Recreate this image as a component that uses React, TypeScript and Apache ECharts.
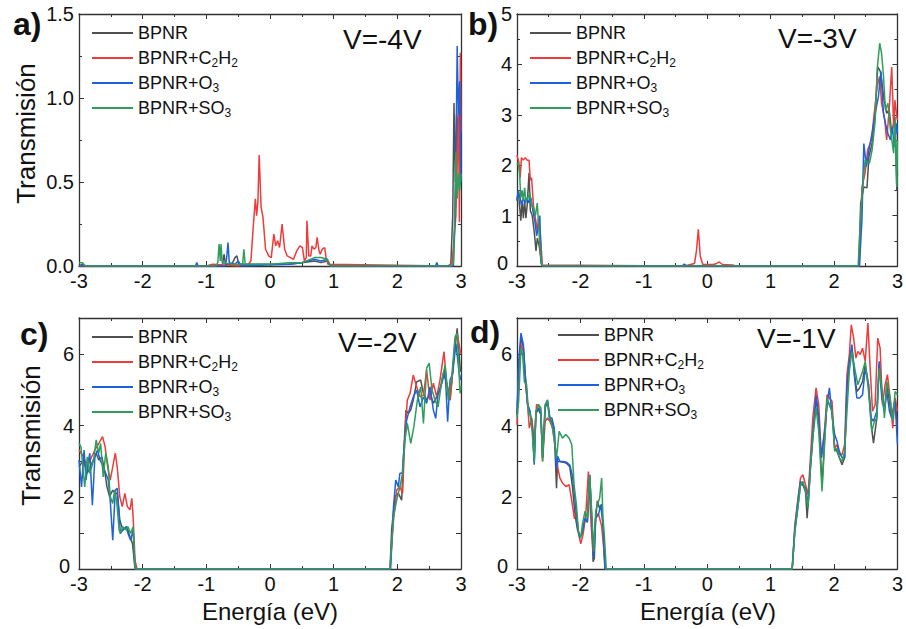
import React, { useEffect, useRef } from "react";
import * as echarts from "echarts";

const NAMES = ["BPNR", "BPNR+C2H2", "BPNR+O3", "BPNR+SO3"];
const COLORS = ["#505050", "#ee3b3b", "#1d62dc", "#2f9e5c"];
const PANEL_LABELS = ["a)", "b)", "c)", "d)"];
const VOLTAGES = ["V=-4V", "V=-3V", "V=-2V", "V=-1V"];
const X_TICKS = [-3, -2, -1, 0, 1, 2, 3];
const Y_MAX = [1.5, 5, 7, 7];
const Y_STEP = [0.5, 1, 1, 1];

// Panel a) V=-4V
const aBPNR = [[-3,0],[-2.95,0.01],[-2.9,0],[-0.75,0],[-0.72,0.07],[-0.7,0.01],[-0.6,0.01],[-0.55,0.05],[-0.52,0.06],[-0.49,0.01],[-0.1,0.01],[0.3,0.01],[0.5,0.02],[0.7,0.03],[0.8,0.02],[0.9,0.03],[0.95,0],[2.8,0],[2.84,0.01],[2.87,0.3],[2.89,0.97],[2.91,0.5],[2.93,0.9],[2.95,0.75],[2.97,1.05],[2.99,0.6],[3,0.8]];
const aC2H2 = [[-3,0],[-1.0,0],[-0.9,0.01],[-0.5,0],[-0.34,0.01],[-0.3,0.03],[-0.26,0.25],[-0.23,0.4],[-0.21,0.3],[-0.19,0.38],[-0.17,0.66],[-0.14,0.35],[-0.11,0.29],[-0.07,0.1],[-0.02,0.06],[0.02,0.05],[0.06,0.19],[0.09,0.12],[0.12,0.15],[0.15,0.11],[0.19,0.25],[0.23,0.1],[0.27,0.06],[0.32,0.05],[0.37,0.04],[0.42,0.09],[0.47,0.12],[0.51,0.11],[0.54,0.03],[0.57,0.05],[0.58,0.27],[0.61,0.06],[0.64,0.06],[0.66,0.12],[0.69,0.1],[0.72,0.11],[0.74,0.17],[0.77,0.09],[0.79,0.07],[0.82,0.1],[0.86,0.11],[0.88,0.05],[0.91,0.01],[2.8,0],[2.86,0.02],[2.92,0.3],[2.94,0.6],[2.96,0.9],[2.975,0.26],[2.99,1.27],[3,0.8]];
const aO3 = [[-3,0],[-1.17,0],[-1.15,0.02],[-1.13,0],[-0.7,0],[-0.68,0.05],[-0.66,0.14],[-0.64,0.02],[-0.55,0.01],[-0.5,0.03],[-0.45,0],[0.3,0.01],[0.5,0.02],[0.7,0.04],[0.8,0.03],[0.9,0.04],[0.95,0],[2.6,0],[2.62,0.02],[2.64,0],[2.88,0],[2.9,0.2],[2.92,0.6],[2.94,1.31],[2.96,0.9],[2.98,1.1],[3,0.5]];
const aSO3 = [[-3,0.02],[-2.95,0.02],[-2.9,0],[-0.85,0],[-0.82,0.02],[-0.8,0.13],[-0.78,0.03],[-0.77,0.13],[-0.75,0.02],[-0.6,0.01],[-0.43,0.01],[-0.41,0.1],[-0.39,0.01],[0,0.01],[0.3,0.02],[0.5,0.02],[0.7,0.05],[0.8,0.05],[0.9,0.04],[0.95,0],[2.85,0],[2.88,0.02],[2.9,0.3],[2.92,0.68],[2.94,0.4],[2.96,0.55],[2.98,0.45],[3,0.55]];

// Panel b) V=-3V
const bBPNR = [[-3,1.3],[-2.98,1.5],[-2.96,1.2],[-2.94,0.9],[-2.92,1.3],[-2.9,0.95],[-2.88,1.3],[-2.86,0.95],[-2.84,1.2],[-2.81,1.85],[-2.79,1.1],[-2.76,1.0],[-2.73,0.7],[-2.7,0.3],[-2.68,0.55],[-2.65,0.4],[-2.62,0.1],[-2.6,0],[2.39,0],[2.42,1.24],[2.47,1.57],[2.52,1.55],[2.55,2.17],[2.6,2.43],[2.65,3.1],[2.69,3.95],[2.73,3.86],[2.75,3.69],[2.79,3.29],[2.83,3.03],[2.87,3.1],[2.91,2.63],[2.96,2.96],[2.99,1.5],[3,1.84]];
const bC2H2 = [[-3,2.2],[-2.97,2.05],[-2.95,1.75],[-2.93,2.15],[-2.9,2.1],[-2.87,2.15],[-2.84,2.1],[-2.81,2.1],[-2.79,1.7],[-2.77,1.75],[-2.74,1.2],[-2.71,0.95],[-2.68,0.7],[-2.66,0.95],[-2.63,0.6],[-2.6,0.02],[-0.4,0],[-0.3,0.02],[-0.2,0.05],[-0.17,0.3],[-0.14,0.73],[-0.11,0.2],[-0.07,0.03],[0.1,0.03],[0.15,0.05],[0.19,0.08],[0.24,0.03],[0.4,0.02],[0.45,0],[2.4,0],[2.44,1.57],[2.49,1.84],[2.53,2.3],[2.59,2.5],[2.62,2.86],[2.68,3.56],[2.72,3.76],[2.75,3.23],[2.8,2.9],[2.83,2.5],[2.87,3.1],[2.91,3.95],[2.94,2.76],[2.96,3.29],[2.99,2.96],[3,2.9]];
const bO3 = [[-3,1.3],[-2.98,1.5],[-2.95,1.35],[-2.93,1.2],[-2.9,1.35],[-2.87,1.25],[-2.84,1.35],[-2.81,1.25],[-2.78,1.35],[-2.75,1.1],[-2.72,0.9],[-2.69,0.6],[-2.66,0.8],[-2.64,1.0],[-2.62,0.05],[-2.6,0],[-0.4,0],[-0.36,0.04],[-0.33,0],[2.4,0],[2.44,0.91],[2.47,2.43],[2.51,1.97],[2.56,2.37],[2.61,2.7],[2.66,3.1],[2.7,3.36],[2.74,3.86],[2.78,3.03],[2.81,2.83],[2.85,2.63],[2.89,2.5],[2.92,2.76],[2.95,2.37],[2.99,2.83],[3,2.63]];
const bSO3 = [[-3,2.0],[-2.98,2.05],[-2.96,1.85],[-2.94,1.35],[-2.92,1.5],[-2.9,1.3],[-2.88,1.55],[-2.86,1.3],[-2.83,1.35],[-2.8,1.45],[-2.77,1.2],[-2.74,1.15],[-2.71,1.0],[-2.68,1.25],[-2.65,0.6],[-2.62,0.1],[-2.6,0],[2.38,0],[2.42,1.0],[2.47,1.84],[2.49,2.1],[2.56,2.04],[2.6,2.3],[2.65,2.9],[2.68,3.89],[2.72,4.42],[2.75,4.22],[2.78,3.77],[2.81,3.1],[2.85,3.23],[2.89,2.7],[2.94,2.24],[2.96,2.9],[2.99,1.57],[3,2.5]];

// Panel c) V=-2V
const cBPNR = [[-3,2.85],[-2.93,3.04],[-2.87,2.67],[-2.8,2.94],[-2.73,3.23],[-2.69,3.04],[-2.64,3.13],[-2.6,2.76],[-2.56,2.29],[-2.52,2.02],[-2.47,2.2],[-2.43,2.11],[-2.4,2.11],[-2.36,1.37],[-2.31,1.09],[-2.25,1.18],[-2.2,0.9],[-2.16,0.71],[-2.12,0],[1.885,0],[1.91,1.09],[1.964,2.02],[2.016,2.11],[2.068,1.92],[2.094,3.04],[2.136,4.43],[2.173,4.34],[2.21,4.43],[2.25,4.71],[2.304,5.22],[2.367,5.27],[2.41,4.9],[2.46,4.71],[2.513,4.9],[2.566,4.62],[2.618,4.8],[2.67,4.99],[2.723,5.46],[2.776,5.18],[2.828,4.71],[2.88,5.74],[2.94,6.71],[2.985,5.64],[3,5.5]];
const cC2H2 = [[-3,3.32],[-2.93,3.13],[-2.87,2.85],[-2.8,3.13],[-2.75,3.32],[-2.69,3.5],[-2.63,3.69],[-2.59,3.41],[-2.55,2.85],[-2.51,2.48],[-2.48,2.76],[-2.43,3.23],[-2.4,2.85],[-2.36,2.02],[-2.32,1.74],[-2.28,2.11],[-2.24,1.74],[-2.2,1.65],[-2.17,1.97],[-2.15,1.46],[-2.12,0.25],[-2.09,0],[1.885,0],[1.94,1.37],[1.99,2.2],[2.04,2.29],[2.083,2.11],[2.12,3.78],[2.157,4.71],[2.2,4.9],[2.25,5.41],[2.304,5.08],[2.356,4.8],[2.41,4.85],[2.46,5.55],[2.513,4.71],[2.566,5.18],[2.618,4.8],[2.67,5.27],[2.733,6.06],[2.776,5.18],[2.828,4.71],[2.855,5.18],[2.907,6.39],[2.94,6.57],[2.985,6.11],[3,6.0]];
const cO3 = [[-3,3.04],[-2.96,2.29],[-2.92,3.32],[-2.89,2.48],[-2.85,3.04],[-2.83,3.23],[-2.79,1.78],[-2.75,3.13],[-2.71,3.32],[-2.67,3.04],[-2.62,2.85],[-2.58,2.67],[-2.54,2.48],[-2.51,1.92],[-2.47,0.8],[-2.43,2.2],[-2.4,2.25],[-2.37,1.55],[-2.35,0.99],[-2.31,1.09],[-2.26,1.18],[-2.23,0.99],[-2.19,0.8],[-2.15,1.09],[-2.12,0],[1.895,0],[1.94,1.74],[1.975,2.48],[2.016,2.29],[2.04,2.67],[2.078,2.67],[2.11,3.5],[2.146,4.15],[2.2,4.52],[2.25,4.8],[2.304,4.99],[2.356,4.52],[2.41,4.8],[2.46,4.62],[2.513,5.08],[2.566,4.43],[2.603,4.2],[2.64,4.9],[2.7,5.18],[2.75,5.55],[2.79,4.11],[2.828,5.27],[2.87,5.46],[2.92,6.29],[2.96,5.64],[2.985,5.27],[3,5.4]];
const cSO3 = [[-3,3.5],[-2.97,3.41],[-2.94,2.85],[-2.91,2.29],[-2.87,3.13],[-2.83,2.67],[-2.8,2.85],[-2.77,3.04],[-2.73,3.6],[-2.69,3.23],[-2.66,3.5],[-2.62,2.57],[-2.58,3.23],[-2.54,2.85],[-2.51,2.02],[-2.47,1.83],[-2.44,2.2],[-2.41,1.92],[-2.37,1.09],[-2.35,0.99],[-2.31,1.18],[-2.26,1.09],[-2.23,1.18],[-2.19,0.99],[-2.15,1.18],[-2.12,0],[1.885,0],[1.94,1.46],[1.99,1.92],[2.04,2.29],[2.083,2.67],[2.12,3.6],[2.157,4.06],[2.21,3.5],[2.26,3.97],[2.315,4.71],[2.367,5.08],[2.41,4.06],[2.46,5.6],[2.5,5.74],[2.545,4.99],[2.592,4.71],[2.64,4.52],[2.7,5.27],[2.75,5.69],[2.8,4.71],[2.855,5.36],[2.907,6.48],[2.94,6.57],[2.985,4.9],[3,5.1]];

// Panel d) V=-1V
const dBPNR = [[-3,4.3],[-2.97,5.6],[-2.937,6.45],[-2.9,6.2],[-2.87,5.4],[-2.833,4.6],[-2.796,4.4],[-2.754,3.9],[-2.728,3.0],[-2.702,4.35],[-2.66,4.45],[-2.623,4.3],[-2.597,3.1],[-2.555,4.5],[-2.518,4.65],[-2.482,4.2],[-2.45,4.1],[-2.413,3.9],[-2.377,2.25],[-2.36,3.0],[-2.324,3.0],[-2.272,2.98],[-2.22,2.95],[-2.167,2.85],[-2.126,2.3],[-2.084,1.5],[-2.047,1.1],[-2.01,0.9],[-1.969,1.0],[-1.927,1.4],[-1.89,1.3],[-1.853,2.6],[-1.822,1.4],[-1.8,0.2],[-1.78,0.3],[-1.759,1.4],[-1.733,1.9],[-1.7,1.7],[-1.665,1.8],[-1.644,1.2],[-1.613,0],[1.34,0],[1.382,1.05],[1.434,1.79],[1.471,2.35],[1.508,2.35],[1.55,2.16],[1.576,1.42],[1.628,2.82],[1.665,3.65],[1.717,4.77],[1.759,4.12],[1.811,2.35],[1.853,3.65],[1.89,4.68],[1.927,4.58],[1.968,4.4],[2.01,3.37],[2.047,3.28],[2.084,3.1],[2.126,2.91],[2.167,3.1],[2.204,5.05],[2.241,5.79],[2.282,6.16],[2.324,5.42],[2.36,4.95],[2.403,5.05],[2.45,5.23],[2.492,5.7],[2.544,5.14],[2.586,4.02],[2.622,3.51],[2.675,4.21],[2.712,5.7],[2.753,4.95],[2.795,4.4],[2.832,5.14],[2.874,4.68],[2.91,4.21],[2.963,4.77],[3,3.93]];
const dC2H2 = [[-3,4.02],[-2.974,5.6],[-2.937,6.26],[-2.9,6.07],[-2.87,5.23],[-2.833,4.58],[-2.806,3.93],[-2.765,4.21],[-2.728,3.47],[-2.692,4.58],[-2.66,4.58],[-2.623,4.4],[-2.597,3.0],[-2.555,4.12],[-2.518,4.21],[-2.482,4.12],[-2.44,3.93],[-2.398,3.37],[-2.36,2.85],[-2.324,2.54],[-2.283,2.4],[-2.23,2.3],[-2.178,2.35],[-2.136,1.9],[-2.094,1.4],[-2.063,1.6],[-2.031,1.0],[-1.995,0.7],[-1.958,0.96],[-1.916,1.51],[-1.874,2.72],[-1.832,1.24],[-1.8,0.49],[-1.759,1.42],[-1.717,1.55],[-1.665,1.2],[-1.628,0.49],[-1.602,0],[1.34,0],[1.382,1.24],[1.415,1.7],[1.471,2.54],[1.508,2.63],[1.55,2.35],[1.591,2.07],[1.628,3.1],[1.665,4.21],[1.717,5.05],[1.759,4.58],[1.8,3.1],[1.853,3.93],[1.89,4.86],[1.927,4.77],[1.968,4.68],[2.01,3.37],[2.047,3.47],[2.084,3.19],[2.126,3.19],[2.167,3.47],[2.204,5.42],[2.241,5.98],[2.272,6.81],[2.31,6.44],[2.345,5.88],[2.376,6.07],[2.413,5.98],[2.45,6.16],[2.492,5.79],[2.534,6.86],[2.57,5.6],[2.607,4.4],[2.648,4.58],[2.69,6.44],[2.727,6.16],[2.764,4.58],[2.806,5.14],[2.842,5.42],[2.885,4.77],[2.926,3.93],[2.963,4.77],[3,4.4]];
const dO3 = [[-3,4.3],[-2.974,5.79],[-2.937,6.58],[-2.9,6.26],[-2.87,5.42],[-2.833,4.58],[-2.796,4.4],[-2.754,3.84],[-2.728,2.91],[-2.702,4.4],[-2.66,4.49],[-2.623,4.3],[-2.597,3.1],[-2.555,4.58],[-2.518,4.72],[-2.482,4.21],[-2.45,4.21],[-2.413,3.93],[-2.377,2.8],[-2.36,3.15],[-2.324,3.0],[-2.272,3.0],[-2.22,2.98],[-2.167,2.9],[-2.126,2.6],[-2.084,1.9],[-2.047,1.2],[-2.01,0.86],[-1.969,1.05],[-1.927,1.42],[-1.89,1.33],[-1.853,2.63],[-1.822,1.42],[-1.79,0.31],[-1.759,1.42],[-1.717,1.51],[-1.68,1.79],[-1.644,1.24],[-1.613,0],[1.34,0],[1.382,1.14],[1.434,1.98],[1.471,2.44],[1.508,2.35],[1.55,2.26],[1.591,1.79],[1.628,2.91],[1.665,3.75],[1.717,4.86],[1.759,4.21],[1.8,3.1],[1.853,3.84],[1.89,4.58],[1.927,5.05],[1.968,4.3],[2.01,3.75],[2.047,3.56],[2.084,3.28],[2.126,3.1],[2.167,3.1],[2.204,5.14],[2.241,5.79],[2.282,6.26],[2.324,5.33],[2.36,4.77],[2.403,4.77],[2.45,4.86],[2.492,5.6],[2.544,5.14],[2.586,4.21],[2.622,4.12],[2.675,4.4],[2.712,5.79],[2.753,4.77],[2.795,4.4],[2.832,4.95],[2.874,4.4],[2.91,4.21],[2.963,4.68],[3,3.47]];
const dSO3 = [[-3,4.21],[-2.974,4.68],[-2.937,6.16],[-2.911,5.98],[-2.885,5.23],[-2.848,5.14],[-2.817,4.3],[-2.796,4.35],[-2.765,3.93],[-2.728,3.0],[-2.702,4.4],[-2.66,4.58],[-2.623,4.49],[-2.597,3.0],[-2.555,4.58],[-2.518,4.68],[-2.492,4.21],[-2.45,4.02],[-2.413,3.65],[-2.377,3.1],[-2.335,3.84],[-2.283,3.65],[-2.23,3.75],[-2.178,3.65],[-2.136,3.47],[-2.1,2.35],[-2.063,1.79],[-2.031,1.05],[-1.995,0.86],[-1.969,1.24],[-1.927,1.61],[-1.89,1.42],[-1.853,2.63],[-1.822,1.61],[-1.79,0.49],[-1.759,1.61],[-1.733,1.79],[-1.696,1.98],[-1.665,2.54],[-1.644,1.42],[-1.623,0.96],[-1.602,0.31],[-1.592,0],[1.34,0],[1.382,1.05],[1.434,1.79],[1.471,2.35],[1.508,2.44],[1.55,2.16],[1.591,1.7],[1.628,2.82],[1.665,3.65],[1.717,4.49],[1.759,3.84],[1.811,2.16],[1.853,3.56],[1.89,4.77],[1.927,4.58],[1.968,4.4],[2.01,3.28],[2.047,3.37],[2.084,3.1],[2.126,3.0],[2.167,3.28],[2.204,4.4],[2.241,5.51],[2.282,6.07],[2.335,5.51],[2.376,5.14],[2.413,5.33],[2.45,5.51],[2.492,5.79],[2.544,4.95],[2.596,3.84],[2.638,4.12],[2.675,4.21],[2.712,5.6],[2.753,5.05],[2.795,4.21],[2.832,5.23],[2.885,4.77],[2.926,4.12],[2.963,4.95],[3,4.86]];

const PANEL_DATA = [
  [aBPNR, aC2H2, aO3, aSO3],
  [bBPNR, bC2H2, bO3, bSO3],
  [cBPNR, cC2H2, cO3, cSO3],
  [dBPNR, dC2H2, dO3, dSO3],
];

const FONT = "'Liberation Sans', Arial, sans-serif";

export default function App() {
  const ref = useRef<HTMLDivElement>(null);
  useEffect(() => {
    if (!ref.current) return;
    const chart = echarts.init(ref.current, undefined, { renderer: "svg" });
    const grids = [
      { left: 79, top: 14, width: 382, height: 252 },
      { left: 517, top: 14, width: 382, height: 252 },
      { left: 79, top: 318, width: 382, height: 251 },
      { left: 517, top: 318, width: 382, height: 251 },
    ];
    const axisLine = { show: true, onZero: false, lineStyle: { color: "#333", width: 1.3 } };
    const tickStyle = { color: "#333", width: 1 };
    const xAxes: any[] = [];
    const yAxes: any[] = [];
    for (let i = 0; i < 4; i++) {
      const base = { type: "value", gridIndex: i, min: X_TICKS[0], max: X_TICKS[X_TICKS.length - 1], interval: 1, splitLine: { show: false }, axisLine, axisTick: { inside: true, length: 5, lineStyle: tickStyle }, minorTick: { show: true, splitNumber: 2, length: 3, lineStyle: tickStyle } };
      xAxes.push({ ...base, position: "bottom", axisLabel: { fontSize: 20, lineHeight: 14, fontFamily: FONT, color: "#111", margin: 8 } });
      xAxes.push({ ...base, position: "top", axisLabel: { show: false } });
      const ymax = Y_MAX[i];
      const ystep = Y_STEP[i];
      const fmt = (v: number) => {
        if (i === 0) return v.toFixed(1);
        if (v === 0) return "{z|0}";
        if (i === 1) return String(v);
        return v % 2 === 0 && v < 7 ? String(v) : "";
      };
      const ybase = { type: "value", gridIndex: i, min: 0, max: ymax, interval: ystep, splitLine: { show: false }, axisLine, axisTick: { inside: true, length: 5, lineStyle: tickStyle }, minorTick: { show: i < 2, splitNumber: 2, length: 3, lineStyle: tickStyle } };
      yAxes.push({
        ...ybase,
        position: "left",
        axisLabel: {
          fontSize: 20, lineHeight: 14, fontFamily: FONT, color: "#111", margin: 5, formatter: fmt,
          rich: { z: { fontSize: 20, lineHeight: 14, fontFamily: FONT, color: "#111", padding: [0, 4, 6, 0] } },
        },
      });
      yAxes.push({ ...ybase, position: "right", axisLabel: { show: false } });
    }
    const series: any[] = [];
    PANEL_DATA.forEach((panel, p) => {
      panel.forEach((data, s) => {
        series.push({
          type: "line",
          name: NAMES[s],
          xAxisIndex: p * 2,
          yAxisIndex: p * 2,
          data,
          showSymbol: false,
          symbol: "none",
          color: COLORS[s],
          itemStyle: { color: COLORS[s] },
          lineStyle: { color: COLORS[s], width: 1.5 },
          z: 2 + s,
        });
      });
    });
    const legendPos = [
      { left: 92, top: 22 },
      { left: 530, top: 22 },
      { left: 92, top: 326 },
      { left: 558, top: 324 },
    ];
    const legends = legendPos.map((pos) => ({
      ...pos,
      orient: "vertical",
      padding: 0,
      itemGap: 3,
      itemWidth: 41,
      itemHeight: 2,
      icon: "rect",
      selectedMode: false,
      data: NAMES,
      formatter: (name: string) => name.replace(/(\d)/g, "{s|$1}"),
      textStyle: {
        fontSize: 18,
        fontFamily: FONT,
        color: "#111",
        lineHeight: 22,
        rich: { s: { fontSize: 12, fontFamily: FONT, color: "#111", lineHeight: 12, padding: [9, 0, 0, 0], verticalAlign: "bottom" } },
      },
    }));
    const labelPos = [[13, 24], [468, 24], [20, 334], [470, 332]];
    const voltPos = [[343, 39], [778, 38], [338, 342], [757, 338]];
    const graphics: any[] = [];
    PANEL_LABELS.forEach((t, i) => {
      graphics.push({ type: "text", x: labelPos[i][0], y: labelPos[i][1], style: { text: t, fontSize: 32, fontWeight: "bold", fontFamily: FONT, fill: "#111", align: "left", verticalAlign: "middle" } });
      graphics.push({ type: "text", x: voltPos[i][0], y: voltPos[i][1], style: { text: VOLTAGES[i], fontSize: 28, fontFamily: FONT, fill: "#111", align: "left", verticalAlign: "middle" } });
    });
    [[25.5, 133.5], [31, 435.5]].forEach(([x, y]) => {
      graphics.push({ type: "text", x, y, rotation: Math.PI / 2, style: { text: "Transmisión", fontSize: 26, fontFamily: FONT, fill: "#111", align: "center", verticalAlign: "middle" } });
    });
    [[270, 611], [708, 611]].forEach(([x, y]) => {
      graphics.push({ type: "text", x, y, style: { text: "Energía (eV)", fontSize: 24, fontFamily: FONT, fill: "#111", align: "center", verticalAlign: "middle" } });
    });
    chart.setOption({
      animation: false,
      backgroundColor: "#fff",
      grid: grids,
      xAxis: xAxes,
      yAxis: yAxes,
      legend: legends,
      series,
      graphic: graphics,
    });
    return () => chart.dispose();
  }, []);
  return <div ref={ref} style={{ position: "fixed", left: 0, top: 0, width: 906, height: 629 }} />;
}
